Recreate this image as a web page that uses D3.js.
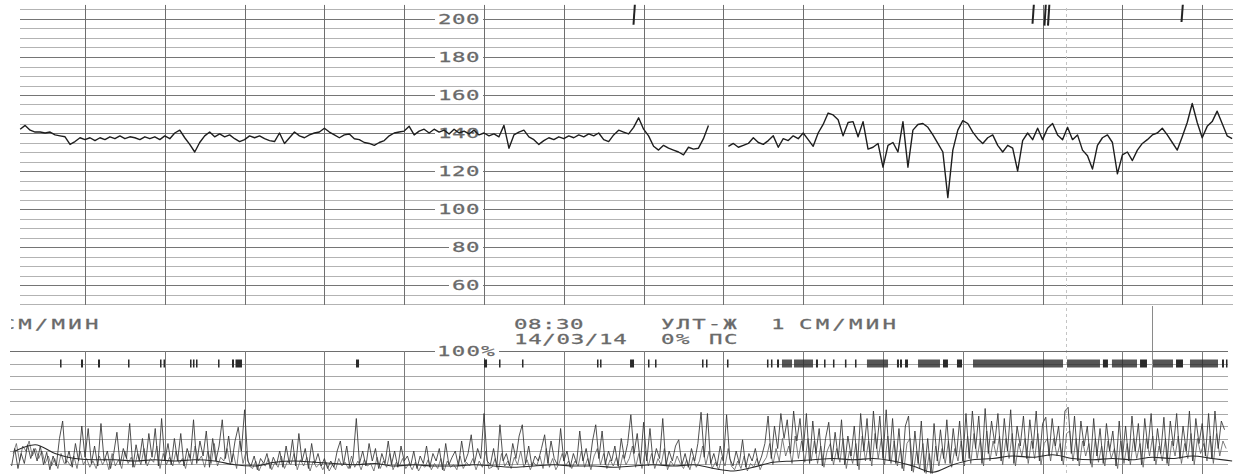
<!DOCTYPE html>
<html>
<head>
<meta charset="utf-8">
<script src="https://cdn.jsdelivr.net/npm/d3@7"></script>
<style>
  html, body { margin: 0; padding: 0; background: #fff; overflow: hidden; }
  svg { display: block; }
</style>
</head>
<body>
<svg id="ctg" width="1237" height="474"></svg>
<script>
// ---------- Recorded data (time in minutes from the left edge of the strip) ----------

// Fetal heart rate, bpm, sampled every 1/16 min; null = signal loss
const fhrStart = 0.1875;
const fhrStep = 1 / 16;
const fhrValues = [
  142,144,141.5,140.5,140.5,140,140.5,139,138.5,138,134,135.5,137.5,136.5,137.5,136,137.5,
  136.5,138,137,138.5,137,138,137.5,136.5,138,137,138,136.5,138.5,137,140,141.5,
  137.5,134,130,135,138.5,140.5,138,139.5,138,139,137,135.5,136.5,138.5,137.5,138.5,
  137,136,135.5,140,134.5,137.5,140.5,138.5,137.5,139,140,140.5,142.5,140.5,139,137.5,
  139,139.5,137,136.5,135,134.5,133.5,135,136,138.5,140,140.5,141,143.5,139,141,
  142,140,142,140.5,141.5,139.5,142,140,141,139.5,141.5,139,140,138.5,139.5,138,
  144,132,139,140.5,141.5,138,136.5,134,136,137.5,136.5,138,137,138.5,137.5,139,
  138,139.5,138.5,140,136.5,135.5,139,141.5,140.5,139.5,143,148,142,138.5,133,131,
  133.5,132,131,130,128.5,132.5,131.5,132,137,144,null,null,null,133,134.5,132.5,
  133.5,134.5,137.5,135,134,136,138.5,132.5,137,136,138.5,137,140,136.5,133,140,
  144.5,150.5,149.5,147,138.5,145.5,146,138,146,131.5,132.5,134.5,122,133.5,135,130,
  146,122,141.5,144.5,145,143,139,134.5,130,106,131,141.5,146.5,145,140.5,137,
  134.5,137.5,139,133.5,130,133.5,132,120,136,140,136.5,142.5,136.5,142.5,145,139,
  136.5,143,136.5,139,131,128,121,133.5,137.5,139,135,118.5,128.5,130,125.5,131,
  134.5,136.5,139,140,142.5,139,135,131,138,145.5,155.5,145.5,137.5,143.5,146,151.5,145,138.5,137
];

// Off-scale pen strokes at the top of the FHR channel: [minute, lowest bpm reached]
const penStrokeTimes = [7.88, 12.88, 13.03, 13.074, 14.747];
const penStrokeLows  = [197, 197.5, 196.5, 196.5, 198.4];
const penStrokeTop = 207.5;

// FHR scale labels
const fhrTickLabels = [200, 180, 160, 140, 120, 100, 80, 60];

// Fetal movement profile, %, sampled every 0.04 min
const moveStart = 0.08;
const moveStep = 0.04;
const moveValues = [
  8,22,6,18,10,25,14,22,12,24,9,19,5,16,8,30,44,10,20,7,26,12,40,15,38,
  10,24,8,42,12,20,6,18,35,9,22,14,42,7,25,12,30,10,34,15,38,8,46,12,26,
  9,30,12,34,8,22,14,45,10,28,16,36,7,30,12,24,45,14,32,11,28,39,20,53,12,
  8,16,5,14,10,18,6,15,9,20,7,24,10,29,8,34,12,22,6,26,10,18,8,14,6,
  12,7,20,28,9,24,6,14,46,10,20,8,26,12,22,6,18,10,28,9,20,7,24,12,16,
  8,20,6,16,10,24,7,18,12,22,5,26,9,15,20,8,28,11,18,33,10,22,14,50,12,
  9,22,7,41,12,18,8,26,14,32,41,10,24,8,16,12,22,33,10,28,14,9,38,12,20,
  7,18,10,36,12,22,8,28,41,14,36,9,20,12,24,8,30,14,26,49,18,34,10,43,12,
  38,10,22,14,46,8,20,12,24,29,9,18,7,22,12,26,51,15,50,10,18,8,24,12,49,
  14,8,20,10,29,7,18,12,22,9,16,26,48,14,40,22,50,30,45,18,52,28,46,20,50,
  10,44,18,38,8,30,43,12,35,14,45,9,32,16,40,8,50,20,46,12,52,22,48,14,53,
  12,46,10,38,6,40,48,4,36,10,44,3,30,2,42,12,37,14,45,10,38,16,44,12,50,
  14,52,22,48,10,54,18,44,26,50,12,46,20,53,10,40,24,48,14,45,22,52,12,42,47,
  16,46,24,40,12,52,55,18,48,12,44,24,40,10,46,16,38,10,42,20,36,8,44,14,40,
  12,48,20,42,9,46,22,50,12,38,18,47,10,44,24,50,14,40,20,52,12,46,26,42,16,
  50,14,52,22,44,37
];

// Raw toco signal (fine fluctuation band), %, sampled every 0.04 min
const rawStart = 0.1;
const rawStep = 0.04;
const rawValues = [
  18,26,12,24,20,28,16,22,14,20,10,16,8,14,6,18,10,12,8,16,6,20,9,14,7,
  12,6,16,9,14,5,18,8,13,6,20,10,15,7,18,9,22,8,14,11,24,6,18,9,15,
  8,20,10,14,6,18,9,24,12,16,7,20,10,26,8,15,12,22,9,18,6,28,10,20,8,
  6,12,4,10,8,14,5,11,7,16,6,12,9,18,5,13,8,15,4,12,7,10,5,11,4,
  9,5,14,8,11,6,16,7,12,5,13,8,10,4,15,6,12,7,18,5,11,8,14,6,10,
  5,11,4,9,7,13,5,10,6,14,4,12,7,9,5,16,6,11,8,14,5,12,7,20,6,
  7,14,5,18,8,12,6,15,9,20,7,13,5,11,8,16,6,22,7,14,5,10,18,8,12,
  6,12,8,20,7,14,5,16,22,9,18,6,13,8,15,5,17,9,14,24,7,18,6,20,8,
  18,6,14,9,22,5,12,8,16,10,6,13,5,15,7,12,24,9,20,6,11,5,15,8,22,
  8,5,12,6,16,4,10,7,14,5,11,15,26,9,22,12,30,16,24,10,32,14,28,11,30,
  12,28,10,24,7,20,26,9,22,11,30,6,20,10,26,5,32,12,28,8,34,14,30,9,32,
  10,28,8,22,4,26,30,3,20,6,26,2,18,2,24,8,22,10,28,7,22,12,28,8,32,
  10,34,14,30,8,36,12,28,16,32,9,30,14,34,8,26,16,30,10,28,14,34,9,26,30,
  12,30,16,26,9,34,36,12,30,8,28,16,26,7,30,11,24,8,28,14,22,6,28,10,26,
  9,30,14,26,7,30,16,32,9,24,12,30,8,28,16,32,10,26,14,34,9,30,18,26,12,
  32,10,34,16,28,22
];

// Uterine activity (toco), %, sampled every 0.25 min
const tocoStart = 0.125;
const tocoStep = 0.25;
const tocoValues = [
  20,25,18,14,13,13,12,13,12,13,12,9,8,11,12,11,10,9,10,8,
  9,8,8,9,8,7,8,9,8,8,7,8,9,8,9,6,4,7,11,12,
  13,14,13,14,12,8,3,9,13,14,16,15,17,14,13,14,13,15,14,16,
  14,12
];

// Fetal movement marker intervals: [start minute, end minute]
const moveMarks = [
  [0.687,0.706],[0.950,0.975],[1.163,1.188],[1.539,1.558],[1.940,1.959],[1.984,2.003],
  [2.316,2.335],[2.353,2.372],[2.391,2.410],[2.667,2.685],[2.842,2.867],[2.886,2.967],
  [4.396,4.434],[6.000,6.038],[6.188,6.207],[6.476,6.495],[7.416,7.435],[7.454,7.472],
  [7.830,7.880],[8.055,8.074],[8.143,8.162],[8.732,8.751],[8.782,8.800],[9.045,9.064],
  [9.546,9.565],[9.596,9.615],[9.672,9.697],[9.734,9.860],[9.885,10.123],[10.160,10.185],
  [10.261,10.280],[10.373,10.392],[10.523,10.542],[10.649,10.668],[10.799,11.063],
  [11.175,11.200],[11.213,11.238],[11.276,11.313],[11.439,11.714],[11.752,11.814],
  [11.927,11.990],[12.128,13.256],[13.306,13.719],[13.756,13.819],[13.869,14.183],
  [14.221,14.308],[14.383,14.634],[14.672,14.759],[14.847,15.198],[15.248,15.273],
  [15.298,15.317]
];

// Printed header texts
const headerRow1 = ["СМ/МИН", "08:30", "УЛТ-Ж", "1", "СМ/МИН"];
const headerRow2 = ["14/03/14", "0%", "ПС"];
const tocoTopLabel = "100%";

// ---------- Scales ----------
const svg = d3.select("#ctg");
const x = d3.scaleLinear().domain([0, 15]).range([5.2, 1202.2]);
const yF = d3.scaleLinear().domain([200, 60]).range([19, 285]);   // FHR channel
const yT = d3.scaleLinear().domain([0, 100]).range([476, 351]);   // toco channel
const crisp = v => Math.round(v) + 0.5;

svg.append("rect").attr("width", 1237).attr("height", 474).attr("fill", "#fff");

// ---------- FHR channel grid ----------
const gF = svg.append("g");
gF.selectAll("line.h")
  .data(d3.range(50, 206, 5))
  .join("line")
  .attr("x1", 20).attr("x2", 1233)
  .attr("y1", d => crisp(yF(d))).attr("y2", d => crisp(yF(d)))
  .attr("stroke", d => d % 20 === 0 ? "#757575" : "#b3b3b3")
  .attr("stroke-width", 1);

// guide lines printed on the paper
svg.append("line")
  .attr("x1", 1066.5).attr("x2", 1066.5).attr("y1", 8).attr("y2", 474)
  .attr("stroke", "#c4c4c4").attr("stroke-dasharray", "3,3");
svg.append("line")
  .attr("x1", 1152.5).attr("x2", 1152.5).attr("y1", 306).attr("y2", 390)
  .attr("stroke", "#8a8a8a");

// label gaps on the grid
const labelPitch = 14;
gF.selectAll("rect.lbl")
  .data(fhrTickLabels)
  .join("rect")
  .attr("x", d => 481 - String(d).length * labelPitch - 4)
  .attr("width", d => String(d).length * labelPitch + 6)
  .attr("y", d => yF(d) - 7).attr("height", 14)
  .attr("fill", "#fff");

gF.selectAll("line.v")
  .data(d3.range(1, 16))
  .join("line")
  .attr("x1", d => crisp(x(d))).attr("x2", d => crisp(x(d)))
  .attr("y1", yF(207.4)).attr("y2", yF(49.5))
  .attr("stroke", "#6e6e6e").attr("stroke-width", 1);

// ---------- Printer-style text ----------
const SX = 1.6, ADV = 8.43;
function printText(g, px, py, str, pitch) {
  return g.append("text")
    .attr("transform", `translate(${px},${py}) scale(${SX},1)`)
    .attr("font-family", "'DejaVu Sans Mono', monospace")
    .attr("font-size", 14)
    .attr("letter-spacing", (pitch / SX - ADV).toFixed(2))
    .attr("fill", "#6a6a6a")
    .attr("stroke", "#6a6a6a")
    .attr("stroke-width", 0.25)
    .text(str);
}

fhrTickLabels.forEach(v => {
  const s = String(v);
  printText(gF, 481 - s.length * labelPitch - 1, yF(v) + 5, s, labelPitch);
});

// ---------- Toco channel grid ----------
const gT = svg.append("g");
gT.selectAll("line.h")
  .data(d3.range(10, 101, 10))
  .join("line")
  .attr("x1", 10).attr("x2", 1228)
  .attr("y1", d => crisp(yT(d))).attr("y2", d => crisp(yT(d)))
  .attr("stroke", d => d === 100 ? "#6e6e6e" : "#a8a8a8")
  .attr("stroke-width", 1);

gT.selectAll("line.v")
  .data(d3.range(1, 16))
  .join("line")
  .attr("x1", d => crisp(x(d))).attr("x2", d => crisp(x(d)))
  .attr("y1", yT(100)).attr("y2", 474)
  .attr("stroke", "#7a7a7a").attr("stroke-width", 1);

gT.append("rect").attr("x", 435).attr("y", 344).attr("width", 64).attr("height", 14).attr("fill", "#fff");
printText(gT, 437, 356, tocoTopLabel, 14.75);

// ---------- Header texts ----------
svg.append("clipPath").attr("id", "leftcut")
  .append("rect").attr("x", 11).attr("y", 300).attr("width", 200).attr("height", 40);
const gH = svg.append("g");
const gCut = svg.append("g").attr("clip-path", "url(#leftcut)");
printText(gCut, 1.5, 329, headerRow1[0], 16.7);
printText(gH, 514, 329, headerRow1[1], 14);
printText(gH, 661, 329, headerRow1[2], 15.6);
printText(gH, 771, 329, headerRow1[3], 15);
printText(gH, 799, 329, headerRow1[4], 16.7);
printText(gH, 514, 344, headerRow2[0], 14.2);
printText(gH, 661, 344, headerRow2[1], 15);
printText(gH, 709, 344, headerRow2[2], 15);

// ---------- Traces ----------
const fhrData = fhrValues.map((v, i) => ({ t: fhrStart + i * fhrStep, v }));
svg.append("path")
  .datum(fhrData)
  .attr("fill", "none")
  .attr("stroke", "#1e1e1e")
  .attr("stroke-width", 1.4)
  .attr("stroke-linejoin", "round")
  .attr("d", d3.line().defined(d => d.v !== null).x(d => x(d.t)).y(d => yF(d.v)));

svg.selectAll("line.pen")
  .data(penStrokeTimes.map((t, i) => ({ t, low: penStrokeLows[i] })))
  .join("line")
  .attr("x1", d => x(d.t) - 0.5).attr("x2", d => x(d.t) + 0.8)
  .attr("y1", d => yF(d.low)).attr("y2", yF(penStrokeTop))
  .attr("stroke", "#222").attr("stroke-width", 2);

const rawData = rawValues.map((v, i) => ({ t: rawStart + i * rawStep, v }));
svg.append("path")
  .datum(rawData)
  .attr("fill", "none")
  .attr("stroke", "#555")
  .attr("stroke-width", 0.75)
  .attr("d", d3.line().x(d => x(d.t)).y(d => yT(d.v)));

const moveData = moveValues.map((v, i) => ({ t: moveStart + i * moveStep, v }));
svg.append("path")
  .datum(moveData)
  .attr("fill", "none")
  .attr("stroke", "#333")
  .attr("stroke-width", 0.85)
  .attr("d", d3.line().x(d => x(d.t)).y(d => yT(d.v)));

const tocoData = tocoValues.map((v, i) => ({ t: tocoStart + i * tocoStep, v }));
svg.append("path")
  .datum(tocoData)
  .attr("fill", "none")
  .attr("stroke", "#2a2a2a")
  .attr("stroke-width", 1.1)
  .attr("d", d3.line().curve(d3.curveMonotoneX).x(d => x(d.t)).y(d => yT(d.v)));

svg.selectAll("rect.mark")
  .data(moveMarks)
  .join("rect")
  .attr("x", d => x(d[0]))
  .attr("width", d => Math.max(1.5, x(d[1]) - x(d[0])))
  .attr("y", yT(90) - 4)
  .attr("height", 8)
  .attr("fill", "#2a2a2a")
  .attr("opacity", d => (x(d[1]) - x(d[0])) > 8 ? 0.8 : 1);
</script>
</body>
</html>
